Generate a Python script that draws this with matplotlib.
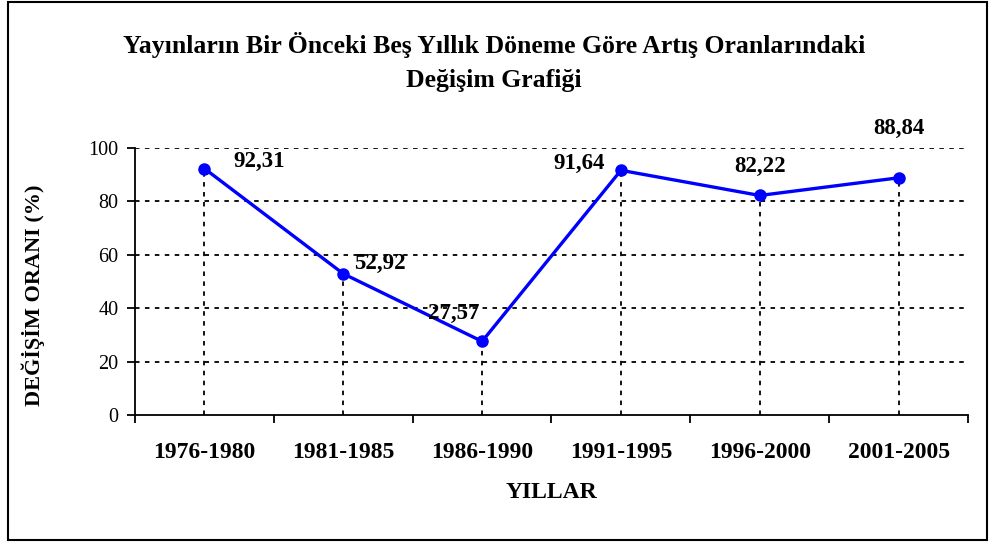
import matplotlib
matplotlib.use("Agg")
import matplotlib.pyplot as plt
from matplotlib.patches import Rectangle

plt.rcParams['font.family'] = ['Liberation Serif', 'DejaVu Serif']

categories = ["1976-1980", "1981-1985", "1986-1990", "1991-1995", "1996-2000", "2001-2005"]
values = [92.31, 52.92, 27.57, 91.64, 82.22, 88.84]
value_labels = ["92,31", "52,92", "27,57", "91,64", "82,22", "88,84"]
label_offsets = [(55, 7), (37, 10), (-28, 28), (-42, 7), (0, 29), (0, 49)]
yticks = [0, 20, 40, 60, 80, 100]

W, H = 989, 542
fig = plt.figure(figsize=(W / 100, H / 100), dpi=100)
fig.patches.append(Rectangle((8 / W, 2 / H), (987 - 8) / W, (540 - 2) / H,
                             transform=fig.transFigure, fill=False, edgecolor='black', linewidth=1.5))

ax = fig.add_axes([135 / W, 1 - 415 / H, (968 - 135) / W, (415 - 148) / H])
x = list(range(len(categories)))
ax.set_xlim(-0.5, len(categories) - 0.5)
ax.set_ylim(0, 100)

for yv in yticks[1:]:
    ax.axhline(yv, color='black', linestyle=(0, (2.5, 3)), linewidth=1.3, zorder=1)
for xi, v in zip(x, values):
    ax.plot([xi, xi], [0, v], color='black', linestyle=(0, (2.5, 3)), linewidth=1.3, zorder=1)

ax.plot(x, values, color='#0000FF', linewidth=2.4, marker='o', markersize=8, zorder=3)

for xi, v, lab, (dx, dy) in zip(x, values, value_labels, label_offsets):
    ax.annotate(lab, (xi, v), xytext=(dx, dy), textcoords='offset pixels',
                ha='center', va='center', fontsize=16.5, fontweight='bold')

for s in ['top', 'right']:
    ax.spines[s].set_visible(False)
for s in ['left', 'bottom']:
    ax.spines[s].set_linewidth(1.3)

ax.set_yticks(yticks)
ax.set_yticklabels([str(t) for t in yticks], fontsize=14.5)
ax.tick_params(axis='y', direction='out', length=6, width=1.3, pad=6)

ax.set_xticks([i + 0.5 for i in range(-1, len(categories))])
ax.set_xticklabels([])
ax.tick_params(axis='x', direction='out', length=6, width=1.3)
for xi, c in zip(x, categories):
    ax.text(xi, 1 - 452 / H, c, transform=ax.get_xaxis_transform() if False else
            matplotlib.transforms.blended_transform_factory(ax.transData, fig.transFigure),
            ha='center', va='center', fontsize=17, fontweight='bold')

fig.text(551 / W, 1 - 492 / H, "YILLAR", ha='center', va='center', fontsize=17, fontweight='bold')
fig.text(33 / W, 1 - 295 / H, "DEĞİŞİM ORANI (%)", ha='center', va='center', rotation=90,
         fontsize=16, fontweight='bold')
fig.text(494 / W, 1 - 45 / H, "Yayınların Bir Önceki Beş Yıllık Döneme Göre Artış Oranlarındaki",
         ha='center', va='center', fontsize=18.5, fontweight='bold')
fig.text(494 / W, 1 - 80 / H, "Değişim Grafiği", ha='center', va='center', fontsize=18.5, fontweight='bold')

fig.savefig("out.png", dpi=100)
